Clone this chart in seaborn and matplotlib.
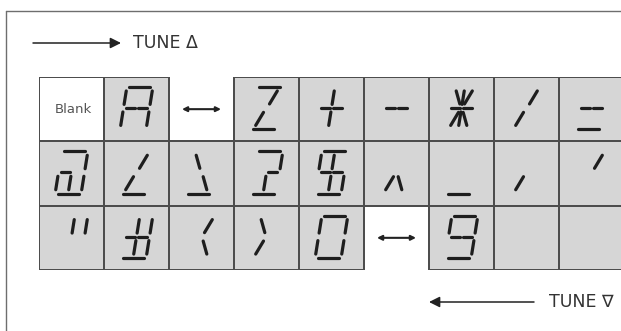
import numpy as np
import matplotlib
matplotlib.use("Agg")
import matplotlib.pyplot as plt
import seaborn as sns
from matplotlib.colors import ListedColormap, to_rgba
from matplotlib.lines import Line2D

# 1. cell shading: 0 = white cell, 1 = grey cell, nan = no cell (arrow only)
shade_top = [0, 1, np.nan, 1, 1, 1, 1, 1, 1]
shade_mid = [1, 1, 1, 1, 1, 1, 1, 1, 1]
shade_bot = [1, 1, 1, 1, 1, np.nan, 1, 1, 1]

# 2. lit segments in every cell (14-segment display)
glyph_top = ["Blank", "abcefgG", "<->", "ajkd", "ilgG", "gG", "gGhijklm", "jk", "gGd"]
glyph_mid = ["abcdegl", "jkd", "hmd", "abGld", "afigGlcd", "km", "d", "k", "j"]
glyph_bot = ["ib", "ibgGlcd", "jm", "hk", "abcdef", "<->", "abcdfgG", "", ""]

label_up = "TUNE Δ"
label_down = "TUNE ∇"

# segment shapes in a unit box (u, v in -1..1, v up)
SEG = {
    "a": ((-0.8, 1), (0.8, 1)),
    "d": ((-0.8, -1), (0.8, -1)),
    "g": ((-0.8, 0), (-0.12, 0)),
    "G": ((0.12, 0), (0.8, 0)),
    "f": ((-1, 0.18), (-1, 0.82)),
    "b": ((1, 0.18), (1, 0.82)),
    "e": ((-1, -0.82), (-1, -0.18)),
    "c": ((1, -0.82), (1, -0.18)),
    "i": ((0, 0.18), (0, 0.82)),
    "l": ((0, -0.82), (0, -0.18)),
    "h": ((-0.18, 0.2), (-0.62, 0.82)),
    "j": ((0.18, 0.2), (0.62, 0.82)),
    "k": ((-0.18, -0.2), (-0.62, -0.82)),
    "m": ((0.18, -0.2), (0.62, -0.82)),
}

sns.set_style("white")
fig = plt.figure(figsize=(6.21, 3.31), dpi=100)

# page frame and the TUNE arrows, in pixel units
bg = fig.add_axes([0, 0, 1, 1])
bg.set_xlim(0, 621)
bg.set_ylim(331, 0)
bg.axis("off")
bg.add_line(Line2D([6, 621], [11, 11], color="#6e6e6e", lw=1))
bg.add_line(Line2D([6, 6], [11, 331], color="#6e6e6e", lw=1))
bg.annotate("", xy=(121, 43), xytext=(33, 43),
            arrowprops=dict(arrowstyle="-|>", color="#222222", lw=1.1,
                            mutation_scale=16, shrinkA=0, shrinkB=0))
bg.text(133, 43, label_up, fontsize=12.5, color="#333333",
        ha="left", va="center")
bg.annotate("", xy=(429, 302), xytext=(534, 302),
            arrowprops=dict(arrowstyle="-|>", color="#222222", lw=1.1,
                            mutation_scale=16, shrinkA=0, shrinkB=0))
bg.text(549, 302, label_down, fontsize=12.5, color="#333333",
        ha="left", va="center")

# 3. the grid of cells
ax = fig.add_axes([39 / 621, 1 - 270 / 331, 585 / 621, 193 / 331])
data = np.array([shade_top, shade_mid, shade_bot], dtype=float)
line_col = "#4d4d4d"
sns.heatmap(data, mask=np.isnan(data), cmap=ListedColormap(["white", "#d6d6d6"]),
            vmin=0, vmax=1, cbar=False, linewidths=1.2, linecolor=line_col,
            xticklabels=False, yticklabels=False, ax=ax)
# no border around the arrow-only places
mesh = ax.collections[0]
edges = np.array([to_rgba(line_col)] * data.size)
edges[np.isnan(data).ravel(), 3] = 0
mesh.set_edgecolor(edges)

cw, ch = 65.0, 64.3
hw, hh, slant = 13.0, 21.0, 0.16
for r, row in enumerate([glyph_top, glyph_mid, glyph_bot]):
    for c, code in enumerate(row):
        cx, cy = c + 0.5, r + 0.5
        if code == "Blank":
            ax.text(cx + 0.03, cy, "Blank", fontsize=9.5, color="#555555",
                    ha="center", va="center")
        elif code == "<->":
            ax.annotate("", xy=(c + 0.8, cy), xytext=(c + 0.2, cy),
                        arrowprops=dict(arrowstyle="<|-|>", color="#222222", lw=1.5,
                                        mutation_scale=7, shrinkA=0, shrinkB=0))
        else:
            for s in code:
                (u0, v0), (u1, v1) = SEG[s]
                xs = [cx + (u0 * hw + slant * v0 * hh) / cw,
                      cx + (u1 * hw + slant * v1 * hh) / cw]
                ys = [cy - (v0 * hh + 1) / ch, cy - (v1 * hh + 1) / ch]
                ax.plot(xs, ys, color="#1e1e1e", lw=2.3, solid_capstyle="round")

fig.savefig("out.png", dpi=100)
